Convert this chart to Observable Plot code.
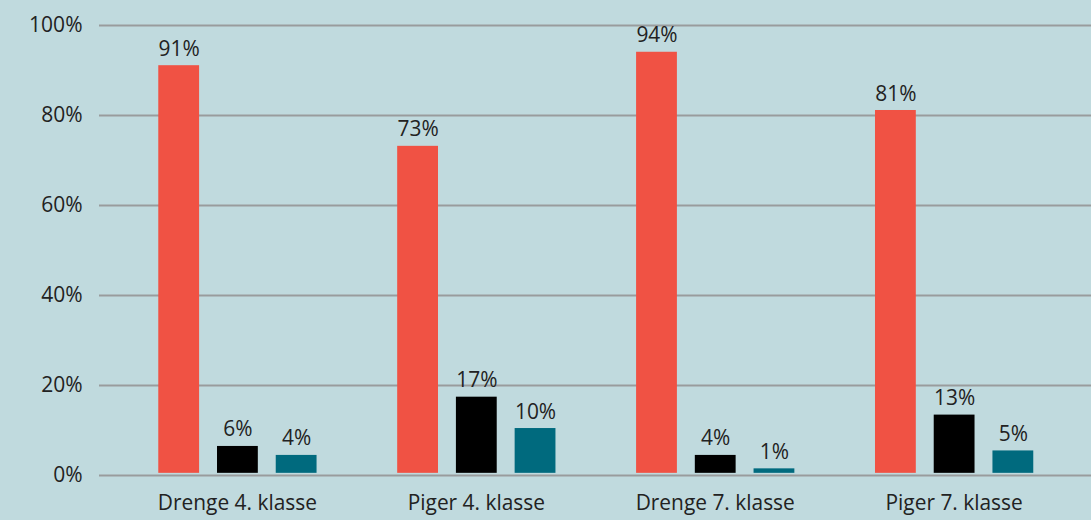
<!DOCTYPE html>
<html>
<head>
<meta charset="utf-8">
<script src="https://cdn.jsdelivr.net/npm/d3@7"></script>
<script src="https://cdn.jsdelivr.net/npm/@observablehq/plot@0.6"></script>
<style>
  html, body { margin: 0; padding: 0; background: #c0dade; }
  #wrap { position: relative; width: 1091px; height: 520px; overflow: hidden; background: #c0dade; }
  #wrap svg { position: absolute; left: 0; top: 0; background: transparent; }
</style>
</head>
<body>
<div id="wrap"></div>
<script>
const groups = ["Drenge 4. klasse", "Piger 4. klasse", "Drenge 7. klasse", "Piger 7. klasse"];
const series = ["A", "B", "C"];
const seriesColors = ["#f05244", "#000000", "#006a7e"];
const valuesA = [91, 73, 94, 81];
const valuesB = [6, 17, 4, 13];
const valuesC = [4, 10, 1, 5];
const yTicks = [0, 20, 40, 60, 80, 100];

const allValues = [valuesA, valuesB, valuesC];
const data = [];
groups.forEach((g, gi) => {
  series.forEach((s, si) => {
    data.push({group: g, series: s, value: allValues[si][gi]});
  });
});

const H = 520;
const common = {
  height: H,
  marginLeft: 99, marginRight: 0, marginTop: 25, marginBottom: 45,
  style: {fontFamily: "'Open Sans', sans-serif", fontSize: "21px", color: "#222", background: "transparent"},
  y: {domain: [0, 100]}
};

const gridPlot = Plot.plot({
  ...common,
  width: 1091,
  marks: [
    Plot.gridY(yTicks, {stroke: "#999c9d", strokeOpacity: 1, strokeWidth: 2}),
    Plot.axisY(yTicks, {tickSize: 0, tickPadding: 17, tickFormat: d => d + "%", label: null, fill: "#222", fontSize: 21})
  ]
});

const barPlot = Plot.plot({
  ...common,
  width: 1096,
  fx: {domain: groups, paddingInner: 0.2, paddingOuter: 0.1745, label: null},
  x: {domain: series, paddingInner: 0.311, paddingOuter: 0.271, axis: null},
  color: {domain: series, range: seriesColors},
  marks: [
    Plot.barY(data, {fx: "group", x: "series", y: "value", fill: "series"}),
    Plot.text(data, {fx: "group", x: "series", y: "value", text: d => d.value + "%", lineAnchor: "bottom", dy: -10, fill: "#222", fontSize: 21}),
    Plot.axisFx({anchor: "bottom", tickSize: 0, tickPadding: 22, label: null, fill: "#222", fontSize: 21}),
    Plot.axisY({anchor: "left", ticks: [], label: null, tickSize: 0})
  ]
});

const wrap = document.getElementById("wrap");
wrap.appendChild(gridPlot);
wrap.appendChild(barPlot);
</script>
</body>
</html>
